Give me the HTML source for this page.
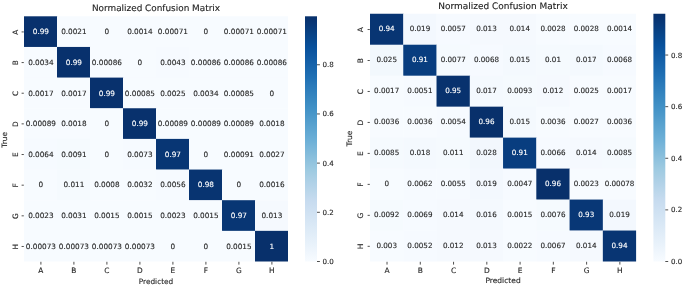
<!DOCTYPE html>
<html><head><meta charset="utf-8"><title>Normalized Confusion Matrix</title>
<style>
html,body{margin:0;padding:0;background:#fff;}
svg{display:block;filter:blur(0.3px);font-family:"DejaVu Sans","Liberation Sans",sans-serif;}
text{stroke:#262626;stroke-width:0.12px;text-rendering:geometricPrecision;}
text.w{stroke:#fff;}
</style></head><body>
<svg width="685" height="286" viewBox="0 0 685 286">
<rect x="0" y="0" width="685" height="286" fill="#ffffff"/>
<rect x="24.00" y="16.30" width="33.30" height="30.95" fill="#08316d"/>
<rect x="57.00" y="16.30" width="33.30" height="30.95" fill="#f7fbff"/>
<rect x="90.00" y="16.30" width="33.30" height="30.95" fill="#f7fbff"/>
<rect x="123.00" y="16.30" width="33.30" height="30.95" fill="#f7fbff"/>
<rect x="156.00" y="16.30" width="33.30" height="30.95" fill="#f7fbff"/>
<rect x="189.00" y="16.30" width="33.30" height="30.95" fill="#f7fbff"/>
<rect x="222.00" y="16.30" width="33.30" height="30.95" fill="#f7fbff"/>
<rect x="255.00" y="16.30" width="33.00" height="30.95" fill="#f7fbff"/>
<rect x="24.00" y="46.95" width="33.30" height="30.95" fill="#f7fbff"/>
<rect x="57.00" y="46.95" width="33.30" height="30.95" fill="#08316d"/>
<rect x="90.00" y="46.95" width="33.30" height="30.95" fill="#f7fbff"/>
<rect x="123.00" y="46.95" width="33.30" height="30.95" fill="#f7fbff"/>
<rect x="156.00" y="46.95" width="33.30" height="30.95" fill="#f6faff"/>
<rect x="189.00" y="46.95" width="33.30" height="30.95" fill="#f7fbff"/>
<rect x="222.00" y="46.95" width="33.30" height="30.95" fill="#f7fbff"/>
<rect x="255.00" y="46.95" width="33.00" height="30.95" fill="#f7fbff"/>
<rect x="24.00" y="77.60" width="33.30" height="30.95" fill="#f7fbff"/>
<rect x="57.00" y="77.60" width="33.30" height="30.95" fill="#f7fbff"/>
<rect x="90.00" y="77.60" width="33.30" height="30.95" fill="#08316d"/>
<rect x="123.00" y="77.60" width="33.30" height="30.95" fill="#f7fbff"/>
<rect x="156.00" y="77.60" width="33.30" height="30.95" fill="#f7fbff"/>
<rect x="189.00" y="77.60" width="33.30" height="30.95" fill="#f7fbff"/>
<rect x="222.00" y="77.60" width="33.30" height="30.95" fill="#f7fbff"/>
<rect x="255.00" y="77.60" width="33.00" height="30.95" fill="#f7fbff"/>
<rect x="24.00" y="108.25" width="33.30" height="30.95" fill="#f7fbff"/>
<rect x="57.00" y="108.25" width="33.30" height="30.95" fill="#f7fbff"/>
<rect x="90.00" y="108.25" width="33.30" height="30.95" fill="#f7fbff"/>
<rect x="123.00" y="108.25" width="33.30" height="30.95" fill="#08316d"/>
<rect x="156.00" y="108.25" width="33.30" height="30.95" fill="#f7fbff"/>
<rect x="189.00" y="108.25" width="33.30" height="30.95" fill="#f7fbff"/>
<rect x="222.00" y="108.25" width="33.30" height="30.95" fill="#f7fbff"/>
<rect x="255.00" y="108.25" width="33.00" height="30.95" fill="#f7fbff"/>
<rect x="24.00" y="138.90" width="33.30" height="30.95" fill="#f6faff"/>
<rect x="57.00" y="138.90" width="33.30" height="30.95" fill="#f5fafe"/>
<rect x="90.00" y="138.90" width="33.30" height="30.95" fill="#f7fbff"/>
<rect x="123.00" y="138.90" width="33.30" height="30.95" fill="#f6faff"/>
<rect x="156.00" y="138.90" width="33.30" height="30.95" fill="#083674"/>
<rect x="189.00" y="138.90" width="33.30" height="30.95" fill="#f7fbff"/>
<rect x="222.00" y="138.90" width="33.30" height="30.95" fill="#f7fbff"/>
<rect x="255.00" y="138.90" width="33.00" height="30.95" fill="#f7fbff"/>
<rect x="24.00" y="169.55" width="33.30" height="30.95" fill="#f7fbff"/>
<rect x="57.00" y="169.55" width="33.30" height="30.95" fill="#f5fafe"/>
<rect x="90.00" y="169.55" width="33.30" height="30.95" fill="#f7fbff"/>
<rect x="123.00" y="169.55" width="33.30" height="30.95" fill="#f7fbff"/>
<rect x="156.00" y="169.55" width="33.30" height="30.95" fill="#f6faff"/>
<rect x="189.00" y="169.55" width="33.30" height="30.95" fill="#083471"/>
<rect x="222.00" y="169.55" width="33.30" height="30.95" fill="#f7fbff"/>
<rect x="255.00" y="169.55" width="33.00" height="30.95" fill="#f7fbff"/>
<rect x="24.00" y="200.20" width="33.30" height="30.95" fill="#f7fbff"/>
<rect x="57.00" y="200.20" width="33.30" height="30.95" fill="#f7fbff"/>
<rect x="90.00" y="200.20" width="33.30" height="30.95" fill="#f7fbff"/>
<rect x="123.00" y="200.20" width="33.30" height="30.95" fill="#f7fbff"/>
<rect x="156.00" y="200.20" width="33.30" height="30.95" fill="#f7fbff"/>
<rect x="189.00" y="200.20" width="33.30" height="30.95" fill="#f7fbff"/>
<rect x="222.00" y="200.20" width="33.30" height="30.95" fill="#083674"/>
<rect x="255.00" y="200.20" width="33.00" height="30.95" fill="#f5f9fe"/>
<rect x="24.00" y="230.85" width="33.30" height="30.65" fill="#f7fbff"/>
<rect x="57.00" y="230.85" width="33.30" height="30.65" fill="#f7fbff"/>
<rect x="90.00" y="230.85" width="33.30" height="30.65" fill="#f7fbff"/>
<rect x="123.00" y="230.85" width="33.30" height="30.65" fill="#f7fbff"/>
<rect x="156.00" y="230.85" width="33.30" height="30.65" fill="#f7fbff"/>
<rect x="189.00" y="230.85" width="33.30" height="30.65" fill="#f7fbff"/>
<rect x="222.00" y="230.85" width="33.30" height="30.65" fill="#f7fbff"/>
<rect x="255.00" y="230.85" width="33.00" height="30.65" fill="#08306b"/>
<text x="40.90" y="31.73" font-size="7.3" fill="#ffffff" class="w" text-anchor="middle" dominant-baseline="central">0.99</text>
<text x="73.90" y="31.73" font-size="7.3" fill="#262626" class="d" text-anchor="middle" dominant-baseline="central">0.0021</text>
<text x="106.90" y="31.73" font-size="7.3" fill="#262626" class="d" text-anchor="middle" dominant-baseline="central">0</text>
<text x="139.90" y="31.73" font-size="7.3" fill="#262626" class="d" text-anchor="middle" dominant-baseline="central">0.0014</text>
<text x="172.90" y="31.73" font-size="7.3" fill="#262626" class="d" text-anchor="middle" dominant-baseline="central">0.00071</text>
<text x="205.90" y="31.73" font-size="7.3" fill="#262626" class="d" text-anchor="middle" dominant-baseline="central">0</text>
<text x="238.90" y="31.73" font-size="7.3" fill="#262626" class="d" text-anchor="middle" dominant-baseline="central">0.00071</text>
<text x="271.90" y="31.73" font-size="7.3" fill="#262626" class="d" text-anchor="middle" dominant-baseline="central">0.00071</text>
<text x="40.90" y="62.37" font-size="7.3" fill="#262626" class="d" text-anchor="middle" dominant-baseline="central">0.0034</text>
<text x="73.90" y="62.37" font-size="7.3" fill="#ffffff" class="w" text-anchor="middle" dominant-baseline="central">0.99</text>
<text x="106.90" y="62.37" font-size="7.3" fill="#262626" class="d" text-anchor="middle" dominant-baseline="central">0.00086</text>
<text x="139.90" y="62.37" font-size="7.3" fill="#262626" class="d" text-anchor="middle" dominant-baseline="central">0</text>
<text x="172.90" y="62.37" font-size="7.3" fill="#262626" class="d" text-anchor="middle" dominant-baseline="central">0.0043</text>
<text x="205.90" y="62.37" font-size="7.3" fill="#262626" class="d" text-anchor="middle" dominant-baseline="central">0.00086</text>
<text x="238.90" y="62.37" font-size="7.3" fill="#262626" class="d" text-anchor="middle" dominant-baseline="central">0.00086</text>
<text x="271.90" y="62.37" font-size="7.3" fill="#262626" class="d" text-anchor="middle" dominant-baseline="central">0.00086</text>
<text x="40.90" y="93.02" font-size="7.3" fill="#262626" class="d" text-anchor="middle" dominant-baseline="central">0.0017</text>
<text x="73.90" y="93.02" font-size="7.3" fill="#262626" class="d" text-anchor="middle" dominant-baseline="central">0.0017</text>
<text x="106.90" y="93.02" font-size="7.3" fill="#ffffff" class="w" text-anchor="middle" dominant-baseline="central">0.99</text>
<text x="139.90" y="93.02" font-size="7.3" fill="#262626" class="d" text-anchor="middle" dominant-baseline="central">0.00085</text>
<text x="172.90" y="93.02" font-size="7.3" fill="#262626" class="d" text-anchor="middle" dominant-baseline="central">0.0025</text>
<text x="205.90" y="93.02" font-size="7.3" fill="#262626" class="d" text-anchor="middle" dominant-baseline="central">0.0034</text>
<text x="238.90" y="93.02" font-size="7.3" fill="#262626" class="d" text-anchor="middle" dominant-baseline="central">0.00085</text>
<text x="271.90" y="93.02" font-size="7.3" fill="#262626" class="d" text-anchor="middle" dominant-baseline="central">0</text>
<text x="40.90" y="123.67" font-size="7.3" fill="#262626" class="d" text-anchor="middle" dominant-baseline="central">0.00089</text>
<text x="73.90" y="123.67" font-size="7.3" fill="#262626" class="d" text-anchor="middle" dominant-baseline="central">0.0018</text>
<text x="106.90" y="123.67" font-size="7.3" fill="#262626" class="d" text-anchor="middle" dominant-baseline="central">0</text>
<text x="139.90" y="123.67" font-size="7.3" fill="#ffffff" class="w" text-anchor="middle" dominant-baseline="central">0.99</text>
<text x="172.90" y="123.67" font-size="7.3" fill="#262626" class="d" text-anchor="middle" dominant-baseline="central">0.00089</text>
<text x="205.90" y="123.67" font-size="7.3" fill="#262626" class="d" text-anchor="middle" dominant-baseline="central">0.00089</text>
<text x="238.90" y="123.67" font-size="7.3" fill="#262626" class="d" text-anchor="middle" dominant-baseline="central">0.00089</text>
<text x="271.90" y="123.67" font-size="7.3" fill="#262626" class="d" text-anchor="middle" dominant-baseline="central">0.0018</text>
<text x="40.90" y="154.32" font-size="7.3" fill="#262626" class="d" text-anchor="middle" dominant-baseline="central">0.0064</text>
<text x="73.90" y="154.32" font-size="7.3" fill="#262626" class="d" text-anchor="middle" dominant-baseline="central">0.0091</text>
<text x="106.90" y="154.32" font-size="7.3" fill="#262626" class="d" text-anchor="middle" dominant-baseline="central">0</text>
<text x="139.90" y="154.32" font-size="7.3" fill="#262626" class="d" text-anchor="middle" dominant-baseline="central">0.0073</text>
<text x="172.90" y="154.32" font-size="7.3" fill="#ffffff" class="w" text-anchor="middle" dominant-baseline="central">0.97</text>
<text x="205.90" y="154.32" font-size="7.3" fill="#262626" class="d" text-anchor="middle" dominant-baseline="central">0</text>
<text x="238.90" y="154.32" font-size="7.3" fill="#262626" class="d" text-anchor="middle" dominant-baseline="central">0.00091</text>
<text x="271.90" y="154.32" font-size="7.3" fill="#262626" class="d" text-anchor="middle" dominant-baseline="central">0.0027</text>
<text x="40.90" y="184.97" font-size="7.3" fill="#262626" class="d" text-anchor="middle" dominant-baseline="central">0</text>
<text x="73.90" y="184.97" font-size="7.3" fill="#262626" class="d" text-anchor="middle" dominant-baseline="central">0.011</text>
<text x="106.90" y="184.97" font-size="7.3" fill="#262626" class="d" text-anchor="middle" dominant-baseline="central">0.0008</text>
<text x="139.90" y="184.97" font-size="7.3" fill="#262626" class="d" text-anchor="middle" dominant-baseline="central">0.0032</text>
<text x="172.90" y="184.97" font-size="7.3" fill="#262626" class="d" text-anchor="middle" dominant-baseline="central">0.0056</text>
<text x="205.90" y="184.97" font-size="7.3" fill="#ffffff" class="w" text-anchor="middle" dominant-baseline="central">0.98</text>
<text x="238.90" y="184.97" font-size="7.3" fill="#262626" class="d" text-anchor="middle" dominant-baseline="central">0</text>
<text x="271.90" y="184.97" font-size="7.3" fill="#262626" class="d" text-anchor="middle" dominant-baseline="central">0.0016</text>
<text x="40.90" y="215.62" font-size="7.3" fill="#262626" class="d" text-anchor="middle" dominant-baseline="central">0.0023</text>
<text x="73.90" y="215.62" font-size="7.3" fill="#262626" class="d" text-anchor="middle" dominant-baseline="central">0.0031</text>
<text x="106.90" y="215.62" font-size="7.3" fill="#262626" class="d" text-anchor="middle" dominant-baseline="central">0.0015</text>
<text x="139.90" y="215.62" font-size="7.3" fill="#262626" class="d" text-anchor="middle" dominant-baseline="central">0.0015</text>
<text x="172.90" y="215.62" font-size="7.3" fill="#262626" class="d" text-anchor="middle" dominant-baseline="central">0.0023</text>
<text x="205.90" y="215.62" font-size="7.3" fill="#262626" class="d" text-anchor="middle" dominant-baseline="central">0.0015</text>
<text x="238.90" y="215.62" font-size="7.3" fill="#ffffff" class="w" text-anchor="middle" dominant-baseline="central">0.97</text>
<text x="271.90" y="215.62" font-size="7.3" fill="#262626" class="d" text-anchor="middle" dominant-baseline="central">0.013</text>
<text x="40.90" y="246.28" font-size="7.3" fill="#262626" class="d" text-anchor="middle" dominant-baseline="central">0.00073</text>
<text x="73.90" y="246.28" font-size="7.3" fill="#262626" class="d" text-anchor="middle" dominant-baseline="central">0.00073</text>
<text x="106.90" y="246.28" font-size="7.3" fill="#262626" class="d" text-anchor="middle" dominant-baseline="central">0.00073</text>
<text x="139.90" y="246.28" font-size="7.3" fill="#262626" class="d" text-anchor="middle" dominant-baseline="central">0.00073</text>
<text x="172.90" y="246.28" font-size="7.3" fill="#262626" class="d" text-anchor="middle" dominant-baseline="central">0</text>
<text x="205.90" y="246.28" font-size="7.3" fill="#262626" class="d" text-anchor="middle" dominant-baseline="central">0</text>
<text x="238.90" y="246.28" font-size="7.3" fill="#262626" class="d" text-anchor="middle" dominant-baseline="central">0.0015</text>
<text x="271.90" y="246.28" font-size="7.3" fill="#ffffff" class="w" text-anchor="middle" dominant-baseline="central">1</text>
<line x1="40.90" y1="261.8" x2="40.90" y2="264.6" stroke="#222" stroke-width="0.8"/>
<text x="40.90" y="270.5" font-size="7.4" fill="#262626" text-anchor="middle" dominant-baseline="central">A</text>
<line x1="21.6" y1="31.93" x2="23.8" y2="31.93" stroke="#222" stroke-width="0.8"/>
<text transform="translate(15.0,32.12) rotate(-90)" font-size="7.4" fill="#262626" text-anchor="middle" dominant-baseline="central">A</text>
<line x1="73.90" y1="261.8" x2="73.90" y2="264.6" stroke="#222" stroke-width="0.8"/>
<text x="73.90" y="270.5" font-size="7.4" fill="#262626" text-anchor="middle" dominant-baseline="central">B</text>
<line x1="21.6" y1="62.57" x2="23.8" y2="62.57" stroke="#222" stroke-width="0.8"/>
<text transform="translate(15.0,62.77) rotate(-90)" font-size="7.4" fill="#262626" text-anchor="middle" dominant-baseline="central">B</text>
<line x1="106.90" y1="261.8" x2="106.90" y2="264.6" stroke="#222" stroke-width="0.8"/>
<text x="106.90" y="270.5" font-size="7.4" fill="#262626" text-anchor="middle" dominant-baseline="central">C</text>
<line x1="21.6" y1="93.22" x2="23.8" y2="93.22" stroke="#222" stroke-width="0.8"/>
<text transform="translate(15.0,93.42) rotate(-90)" font-size="7.4" fill="#262626" text-anchor="middle" dominant-baseline="central">C</text>
<line x1="139.90" y1="261.8" x2="139.90" y2="264.6" stroke="#222" stroke-width="0.8"/>
<text x="139.90" y="270.5" font-size="7.4" fill="#262626" text-anchor="middle" dominant-baseline="central">D</text>
<line x1="21.6" y1="123.87" x2="23.8" y2="123.87" stroke="#222" stroke-width="0.8"/>
<text transform="translate(15.0,124.07) rotate(-90)" font-size="7.4" fill="#262626" text-anchor="middle" dominant-baseline="central">D</text>
<line x1="172.90" y1="261.8" x2="172.90" y2="264.6" stroke="#222" stroke-width="0.8"/>
<text x="172.90" y="270.5" font-size="7.4" fill="#262626" text-anchor="middle" dominant-baseline="central">E</text>
<line x1="21.6" y1="154.53" x2="23.8" y2="154.53" stroke="#222" stroke-width="0.8"/>
<text transform="translate(15.0,154.72) rotate(-90)" font-size="7.4" fill="#262626" text-anchor="middle" dominant-baseline="central">E</text>
<line x1="205.90" y1="261.8" x2="205.90" y2="264.6" stroke="#222" stroke-width="0.8"/>
<text x="205.90" y="270.5" font-size="7.4" fill="#262626" text-anchor="middle" dominant-baseline="central">F</text>
<line x1="21.6" y1="185.18" x2="23.8" y2="185.18" stroke="#222" stroke-width="0.8"/>
<text transform="translate(15.0,185.38) rotate(-90)" font-size="7.4" fill="#262626" text-anchor="middle" dominant-baseline="central">F</text>
<line x1="238.90" y1="261.8" x2="238.90" y2="264.6" stroke="#222" stroke-width="0.8"/>
<text x="238.90" y="270.5" font-size="7.4" fill="#262626" text-anchor="middle" dominant-baseline="central">G</text>
<line x1="21.6" y1="215.83" x2="23.8" y2="215.83" stroke="#222" stroke-width="0.8"/>
<text transform="translate(15.0,216.03) rotate(-90)" font-size="7.4" fill="#262626" text-anchor="middle" dominant-baseline="central">G</text>
<line x1="271.90" y1="261.8" x2="271.90" y2="264.6" stroke="#222" stroke-width="0.8"/>
<text x="271.90" y="270.5" font-size="7.4" fill="#262626" text-anchor="middle" dominant-baseline="central">H</text>
<line x1="21.6" y1="246.48" x2="23.8" y2="246.48" stroke="#222" stroke-width="0.8"/>
<text transform="translate(15.0,246.68) rotate(-90)" font-size="7.4" fill="#262626" text-anchor="middle" dominant-baseline="central">H</text>
<text x="156.00" y="281.1" font-size="7.35" fill="#262626" text-anchor="middle" dominant-baseline="central">Predicted</text>
<text transform="translate(4.5,139.90) rotate(-90)" font-size="7.35" fill="#262626" text-anchor="middle" dominant-baseline="central">True</text>
<text x="156.00" y="8.5" font-size="8.88" fill="#1a1a1a" text-anchor="middle" dominant-baseline="central">Normalized Confusion Matrix</text>
<defs><linearGradient id="g1" x1="0" y1="0" x2="0" y2="1"><stop offset="0.0000" stop-color="#08306b"/><stop offset="0.0312" stop-color="#083776"/><stop offset="0.0625" stop-color="#084082"/><stop offset="0.0938" stop-color="#08488e"/><stop offset="0.1250" stop-color="#08509b"/><stop offset="0.1562" stop-color="#0e58a2"/><stop offset="0.1875" stop-color="#1460a8"/><stop offset="0.2188" stop-color="#1a68ae"/><stop offset="0.2500" stop-color="#2070b4"/><stop offset="0.2812" stop-color="#2979b9"/><stop offset="0.3125" stop-color="#3181bd"/><stop offset="0.3438" stop-color="#3989c1"/><stop offset="0.3750" stop-color="#4191c6"/><stop offset="0.4062" stop-color="#4b98ca"/><stop offset="0.4375" stop-color="#56a0ce"/><stop offset="0.4688" stop-color="#60a7d2"/><stop offset="0.5000" stop-color="#6aaed6"/><stop offset="0.5312" stop-color="#77b5d9"/><stop offset="0.5625" stop-color="#84bcdb"/><stop offset="0.5938" stop-color="#91c3de"/><stop offset="0.6250" stop-color="#9dcae1"/><stop offset="0.6562" stop-color="#a8cee4"/><stop offset="0.6875" stop-color="#b2d2e8"/><stop offset="0.7188" stop-color="#bcd7eb"/><stop offset="0.7500" stop-color="#c6dbef"/><stop offset="0.7812" stop-color="#ccdff1"/><stop offset="0.8125" stop-color="#d2e3f3"/><stop offset="0.8438" stop-color="#d8e7f5"/><stop offset="0.8750" stop-color="#deebf7"/><stop offset="0.9062" stop-color="#e4eff9"/><stop offset="0.9375" stop-color="#eaf3fb"/><stop offset="0.9688" stop-color="#f1f7fd"/><stop offset="1.0000" stop-color="#f7fbff"/></linearGradient></defs>
<rect x="305.0" y="16.3" width="12.0" height="245.2" fill="url(#g1)"/>
<line x1="317.0" y1="261.50" x2="319.9" y2="261.50" stroke="#222" stroke-width="0.8"/>
<text x="322.6" y="261.50" font-size="7.1" fill="#262626" dominant-baseline="central">0.0</text>
<line x1="317.0" y1="212.31" x2="319.9" y2="212.31" stroke="#222" stroke-width="0.8"/>
<text x="322.6" y="212.31" font-size="7.1" fill="#262626" dominant-baseline="central">0.2</text>
<line x1="317.0" y1="163.12" x2="319.9" y2="163.12" stroke="#222" stroke-width="0.8"/>
<text x="322.6" y="163.12" font-size="7.1" fill="#262626" dominant-baseline="central">0.4</text>
<line x1="317.0" y1="113.94" x2="319.9" y2="113.94" stroke="#222" stroke-width="0.8"/>
<text x="322.6" y="113.94" font-size="7.1" fill="#262626" dominant-baseline="central">0.6</text>
<line x1="317.0" y1="64.75" x2="319.9" y2="64.75" stroke="#222" stroke-width="0.8"/>
<text x="322.6" y="64.75" font-size="7.1" fill="#262626" dominant-baseline="central">0.8</text>
<rect x="370.00" y="13.75" width="33.56" height="31.27" fill="#083573"/>
<rect x="403.26" y="13.75" width="33.56" height="31.27" fill="#f3f8fe"/>
<rect x="436.52" y="13.75" width="33.56" height="31.27" fill="#f6faff"/>
<rect x="469.79" y="13.75" width="33.56" height="31.27" fill="#f5f9fe"/>
<rect x="503.05" y="13.75" width="33.56" height="31.27" fill="#f5f9fe"/>
<rect x="536.31" y="13.75" width="33.56" height="31.27" fill="#f7fbff"/>
<rect x="569.58" y="13.75" width="33.56" height="31.27" fill="#f7fbff"/>
<rect x="602.84" y="13.75" width="33.26" height="31.27" fill="#f7fbff"/>
<rect x="370.00" y="44.72" width="33.56" height="31.27" fill="#f2f8fd"/>
<rect x="403.26" y="44.72" width="33.56" height="31.27" fill="#083d7f"/>
<rect x="436.52" y="44.72" width="33.56" height="31.27" fill="#f5fafe"/>
<rect x="469.79" y="44.72" width="33.56" height="31.27" fill="#f6faff"/>
<rect x="503.05" y="44.72" width="33.56" height="31.27" fill="#f4f9fe"/>
<rect x="536.31" y="44.72" width="33.56" height="31.27" fill="#f5fafe"/>
<rect x="569.58" y="44.72" width="33.56" height="31.27" fill="#f4f9fe"/>
<rect x="602.84" y="44.72" width="33.26" height="31.27" fill="#f6faff"/>
<rect x="370.00" y="75.69" width="33.56" height="31.27" fill="#f7fbff"/>
<rect x="403.26" y="75.69" width="33.56" height="31.27" fill="#f6faff"/>
<rect x="436.52" y="75.69" width="33.56" height="31.27" fill="#08326e"/>
<rect x="469.79" y="75.69" width="33.56" height="31.27" fill="#f4f9fe"/>
<rect x="503.05" y="75.69" width="33.56" height="31.27" fill="#f5fafe"/>
<rect x="536.31" y="75.69" width="33.56" height="31.27" fill="#f5f9fe"/>
<rect x="569.58" y="75.69" width="33.56" height="31.27" fill="#f7fbff"/>
<rect x="602.84" y="75.69" width="33.26" height="31.27" fill="#f7fbff"/>
<rect x="370.00" y="106.66" width="33.56" height="31.27" fill="#f7fbff"/>
<rect x="403.26" y="106.66" width="33.56" height="31.27" fill="#f7fbff"/>
<rect x="436.52" y="106.66" width="33.56" height="31.27" fill="#f6faff"/>
<rect x="469.79" y="106.66" width="33.56" height="31.27" fill="#08306b"/>
<rect x="503.05" y="106.66" width="33.56" height="31.27" fill="#f4f9fe"/>
<rect x="536.31" y="106.66" width="33.56" height="31.27" fill="#f7fbff"/>
<rect x="569.58" y="106.66" width="33.56" height="31.27" fill="#f7fbff"/>
<rect x="602.84" y="106.66" width="33.26" height="31.27" fill="#f7fbff"/>
<rect x="370.00" y="137.62" width="33.56" height="31.27" fill="#f5fafe"/>
<rect x="403.26" y="137.62" width="33.56" height="31.27" fill="#f4f9fe"/>
<rect x="436.52" y="137.62" width="33.56" height="31.27" fill="#f5fafe"/>
<rect x="469.79" y="137.62" width="33.56" height="31.27" fill="#f2f7fd"/>
<rect x="503.05" y="137.62" width="33.56" height="31.27" fill="#083d7f"/>
<rect x="536.31" y="137.62" width="33.56" height="31.27" fill="#f6faff"/>
<rect x="569.58" y="137.62" width="33.56" height="31.27" fill="#f5f9fe"/>
<rect x="602.84" y="137.62" width="33.26" height="31.27" fill="#f5fafe"/>
<rect x="370.00" y="168.59" width="33.56" height="31.27" fill="#f7fbff"/>
<rect x="403.26" y="168.59" width="33.56" height="31.27" fill="#f6faff"/>
<rect x="436.52" y="168.59" width="33.56" height="31.27" fill="#f6faff"/>
<rect x="469.79" y="168.59" width="33.56" height="31.27" fill="#f3f8fe"/>
<rect x="503.05" y="168.59" width="33.56" height="31.27" fill="#f6faff"/>
<rect x="536.31" y="168.59" width="33.56" height="31.27" fill="#08306b"/>
<rect x="569.58" y="168.59" width="33.56" height="31.27" fill="#f7fbff"/>
<rect x="602.84" y="168.59" width="33.26" height="31.27" fill="#f7fbff"/>
<rect x="370.00" y="199.56" width="33.56" height="31.27" fill="#f5fafe"/>
<rect x="403.26" y="199.56" width="33.56" height="31.27" fill="#f6faff"/>
<rect x="436.52" y="199.56" width="33.56" height="31.27" fill="#f5f9fe"/>
<rect x="469.79" y="199.56" width="33.56" height="31.27" fill="#f4f9fe"/>
<rect x="503.05" y="199.56" width="33.56" height="31.27" fill="#f7fbff"/>
<rect x="536.31" y="199.56" width="33.56" height="31.27" fill="#f5fafe"/>
<rect x="569.58" y="199.56" width="33.56" height="31.27" fill="#083776"/>
<rect x="602.84" y="199.56" width="33.26" height="31.27" fill="#f3f8fe"/>
<rect x="370.00" y="230.53" width="33.56" height="30.97" fill="#f7fbff"/>
<rect x="403.26" y="230.53" width="33.56" height="30.97" fill="#f6faff"/>
<rect x="436.52" y="230.53" width="33.56" height="30.97" fill="#f5f9fe"/>
<rect x="469.79" y="230.53" width="33.56" height="30.97" fill="#f5f9fe"/>
<rect x="503.05" y="230.53" width="33.56" height="30.97" fill="#f7fbff"/>
<rect x="536.31" y="230.53" width="33.56" height="30.97" fill="#f6faff"/>
<rect x="569.58" y="230.53" width="33.56" height="30.97" fill="#f5f9fe"/>
<rect x="602.84" y="230.53" width="33.26" height="30.97" fill="#083573"/>
<text x="386.68" y="28.78" font-size="7.2" fill="#ffffff" class="w" text-anchor="middle" dominant-baseline="central">0.94</text>
<text x="419.94" y="28.78" font-size="7.2" fill="#262626" class="d" text-anchor="middle" dominant-baseline="central">0.019</text>
<text x="453.21" y="28.78" font-size="7.2" fill="#262626" class="d" text-anchor="middle" dominant-baseline="central">0.0057</text>
<text x="486.47" y="28.78" font-size="7.2" fill="#262626" class="d" text-anchor="middle" dominant-baseline="central">0.013</text>
<text x="519.73" y="28.78" font-size="7.2" fill="#262626" class="d" text-anchor="middle" dominant-baseline="central">0.014</text>
<text x="552.99" y="28.78" font-size="7.2" fill="#262626" class="d" text-anchor="middle" dominant-baseline="central">0.0028</text>
<text x="586.26" y="28.78" font-size="7.2" fill="#262626" class="d" text-anchor="middle" dominant-baseline="central">0.0028</text>
<text x="619.52" y="28.78" font-size="7.2" fill="#262626" class="d" text-anchor="middle" dominant-baseline="central">0.0014</text>
<text x="386.68" y="59.75" font-size="7.2" fill="#262626" class="d" text-anchor="middle" dominant-baseline="central">0.025</text>
<text x="419.94" y="59.75" font-size="7.2" fill="#ffffff" class="w" text-anchor="middle" dominant-baseline="central">0.91</text>
<text x="453.21" y="59.75" font-size="7.2" fill="#262626" class="d" text-anchor="middle" dominant-baseline="central">0.0077</text>
<text x="486.47" y="59.75" font-size="7.2" fill="#262626" class="d" text-anchor="middle" dominant-baseline="central">0.0068</text>
<text x="519.73" y="59.75" font-size="7.2" fill="#262626" class="d" text-anchor="middle" dominant-baseline="central">0.015</text>
<text x="552.99" y="59.75" font-size="7.2" fill="#262626" class="d" text-anchor="middle" dominant-baseline="central">0.01</text>
<text x="586.26" y="59.75" font-size="7.2" fill="#262626" class="d" text-anchor="middle" dominant-baseline="central">0.017</text>
<text x="619.52" y="59.75" font-size="7.2" fill="#262626" class="d" text-anchor="middle" dominant-baseline="central">0.0068</text>
<text x="386.68" y="90.72" font-size="7.2" fill="#262626" class="d" text-anchor="middle" dominant-baseline="central">0.0017</text>
<text x="419.94" y="90.72" font-size="7.2" fill="#262626" class="d" text-anchor="middle" dominant-baseline="central">0.0051</text>
<text x="453.21" y="90.72" font-size="7.2" fill="#ffffff" class="w" text-anchor="middle" dominant-baseline="central">0.95</text>
<text x="486.47" y="90.72" font-size="7.2" fill="#262626" class="d" text-anchor="middle" dominant-baseline="central">0.017</text>
<text x="519.73" y="90.72" font-size="7.2" fill="#262626" class="d" text-anchor="middle" dominant-baseline="central">0.0093</text>
<text x="552.99" y="90.72" font-size="7.2" fill="#262626" class="d" text-anchor="middle" dominant-baseline="central">0.012</text>
<text x="586.26" y="90.72" font-size="7.2" fill="#262626" class="d" text-anchor="middle" dominant-baseline="central">0.0025</text>
<text x="619.52" y="90.72" font-size="7.2" fill="#262626" class="d" text-anchor="middle" dominant-baseline="central">0.0017</text>
<text x="386.68" y="121.69" font-size="7.2" fill="#262626" class="d" text-anchor="middle" dominant-baseline="central">0.0036</text>
<text x="419.94" y="121.69" font-size="7.2" fill="#262626" class="d" text-anchor="middle" dominant-baseline="central">0.0036</text>
<text x="453.21" y="121.69" font-size="7.2" fill="#262626" class="d" text-anchor="middle" dominant-baseline="central">0.0054</text>
<text x="486.47" y="121.69" font-size="7.2" fill="#ffffff" class="w" text-anchor="middle" dominant-baseline="central">0.96</text>
<text x="519.73" y="121.69" font-size="7.2" fill="#262626" class="d" text-anchor="middle" dominant-baseline="central">0.015</text>
<text x="552.99" y="121.69" font-size="7.2" fill="#262626" class="d" text-anchor="middle" dominant-baseline="central">0.0036</text>
<text x="586.26" y="121.69" font-size="7.2" fill="#262626" class="d" text-anchor="middle" dominant-baseline="central">0.0027</text>
<text x="619.52" y="121.69" font-size="7.2" fill="#262626" class="d" text-anchor="middle" dominant-baseline="central">0.0036</text>
<text x="386.68" y="152.66" font-size="7.2" fill="#262626" class="d" text-anchor="middle" dominant-baseline="central">0.0085</text>
<text x="419.94" y="152.66" font-size="7.2" fill="#262626" class="d" text-anchor="middle" dominant-baseline="central">0.018</text>
<text x="453.21" y="152.66" font-size="7.2" fill="#262626" class="d" text-anchor="middle" dominant-baseline="central">0.011</text>
<text x="486.47" y="152.66" font-size="7.2" fill="#262626" class="d" text-anchor="middle" dominant-baseline="central">0.028</text>
<text x="519.73" y="152.66" font-size="7.2" fill="#ffffff" class="w" text-anchor="middle" dominant-baseline="central">0.91</text>
<text x="552.99" y="152.66" font-size="7.2" fill="#262626" class="d" text-anchor="middle" dominant-baseline="central">0.0066</text>
<text x="586.26" y="152.66" font-size="7.2" fill="#262626" class="d" text-anchor="middle" dominant-baseline="central">0.014</text>
<text x="619.52" y="152.66" font-size="7.2" fill="#262626" class="d" text-anchor="middle" dominant-baseline="central">0.0085</text>
<text x="386.68" y="183.63" font-size="7.2" fill="#262626" class="d" text-anchor="middle" dominant-baseline="central">0</text>
<text x="419.94" y="183.63" font-size="7.2" fill="#262626" class="d" text-anchor="middle" dominant-baseline="central">0.0062</text>
<text x="453.21" y="183.63" font-size="7.2" fill="#262626" class="d" text-anchor="middle" dominant-baseline="central">0.0055</text>
<text x="486.47" y="183.63" font-size="7.2" fill="#262626" class="d" text-anchor="middle" dominant-baseline="central">0.019</text>
<text x="519.73" y="183.63" font-size="7.2" fill="#262626" class="d" text-anchor="middle" dominant-baseline="central">0.0047</text>
<text x="552.99" y="183.63" font-size="7.2" fill="#ffffff" class="w" text-anchor="middle" dominant-baseline="central">0.96</text>
<text x="586.26" y="183.63" font-size="7.2" fill="#262626" class="d" text-anchor="middle" dominant-baseline="central">0.0023</text>
<text x="619.52" y="183.63" font-size="7.2" fill="#262626" class="d" text-anchor="middle" dominant-baseline="central">0.00078</text>
<text x="386.68" y="214.60" font-size="7.2" fill="#262626" class="d" text-anchor="middle" dominant-baseline="central">0.0092</text>
<text x="419.94" y="214.60" font-size="7.2" fill="#262626" class="d" text-anchor="middle" dominant-baseline="central">0.0069</text>
<text x="453.21" y="214.60" font-size="7.2" fill="#262626" class="d" text-anchor="middle" dominant-baseline="central">0.014</text>
<text x="486.47" y="214.60" font-size="7.2" fill="#262626" class="d" text-anchor="middle" dominant-baseline="central">0.016</text>
<text x="519.73" y="214.60" font-size="7.2" fill="#262626" class="d" text-anchor="middle" dominant-baseline="central">0.0015</text>
<text x="552.99" y="214.60" font-size="7.2" fill="#262626" class="d" text-anchor="middle" dominant-baseline="central">0.0076</text>
<text x="586.26" y="214.60" font-size="7.2" fill="#ffffff" class="w" text-anchor="middle" dominant-baseline="central">0.93</text>
<text x="619.52" y="214.60" font-size="7.2" fill="#262626" class="d" text-anchor="middle" dominant-baseline="central">0.019</text>
<text x="386.68" y="245.57" font-size="7.2" fill="#262626" class="d" text-anchor="middle" dominant-baseline="central">0.003</text>
<text x="419.94" y="245.57" font-size="7.2" fill="#262626" class="d" text-anchor="middle" dominant-baseline="central">0.0052</text>
<text x="453.21" y="245.57" font-size="7.2" fill="#262626" class="d" text-anchor="middle" dominant-baseline="central">0.012</text>
<text x="486.47" y="245.57" font-size="7.2" fill="#262626" class="d" text-anchor="middle" dominant-baseline="central">0.013</text>
<text x="519.73" y="245.57" font-size="7.2" fill="#262626" class="d" text-anchor="middle" dominant-baseline="central">0.0022</text>
<text x="552.99" y="245.57" font-size="7.2" fill="#262626" class="d" text-anchor="middle" dominant-baseline="central">0.0067</text>
<text x="586.26" y="245.57" font-size="7.2" fill="#262626" class="d" text-anchor="middle" dominant-baseline="central">0.014</text>
<text x="619.52" y="245.57" font-size="7.2" fill="#ffffff" class="w" text-anchor="middle" dominant-baseline="central">0.94</text>
<line x1="387.03" y1="261.8" x2="387.03" y2="264.6" stroke="#222" stroke-width="0.8"/>
<text x="387.03" y="270.7" font-size="7.5" fill="#262626" text-anchor="middle" dominant-baseline="central">A</text>
<line x1="367.6" y1="29.53" x2="369.8" y2="29.53" stroke="#222" stroke-width="0.8"/>
<text transform="translate(360.6,29.73) rotate(-90)" font-size="7.5" fill="#262626" text-anchor="middle" dominant-baseline="central">A</text>
<line x1="420.29" y1="261.8" x2="420.29" y2="264.6" stroke="#222" stroke-width="0.8"/>
<text x="420.29" y="270.7" font-size="7.5" fill="#262626" text-anchor="middle" dominant-baseline="central">B</text>
<line x1="367.6" y1="60.50" x2="369.8" y2="60.50" stroke="#222" stroke-width="0.8"/>
<text transform="translate(360.6,60.70) rotate(-90)" font-size="7.5" fill="#262626" text-anchor="middle" dominant-baseline="central">B</text>
<line x1="453.56" y1="261.8" x2="453.56" y2="264.6" stroke="#222" stroke-width="0.8"/>
<text x="453.56" y="270.7" font-size="7.5" fill="#262626" text-anchor="middle" dominant-baseline="central">C</text>
<line x1="367.6" y1="91.47" x2="369.8" y2="91.47" stroke="#222" stroke-width="0.8"/>
<text transform="translate(360.6,91.67) rotate(-90)" font-size="7.5" fill="#262626" text-anchor="middle" dominant-baseline="central">C</text>
<line x1="486.82" y1="261.8" x2="486.82" y2="264.6" stroke="#222" stroke-width="0.8"/>
<text x="486.82" y="270.7" font-size="7.5" fill="#262626" text-anchor="middle" dominant-baseline="central">D</text>
<line x1="367.6" y1="122.44" x2="369.8" y2="122.44" stroke="#222" stroke-width="0.8"/>
<text transform="translate(360.6,122.64) rotate(-90)" font-size="7.5" fill="#262626" text-anchor="middle" dominant-baseline="central">D</text>
<line x1="520.08" y1="261.8" x2="520.08" y2="264.6" stroke="#222" stroke-width="0.8"/>
<text x="520.08" y="270.7" font-size="7.5" fill="#262626" text-anchor="middle" dominant-baseline="central">E</text>
<line x1="367.6" y1="153.41" x2="369.8" y2="153.41" stroke="#222" stroke-width="0.8"/>
<text transform="translate(360.6,153.61) rotate(-90)" font-size="7.5" fill="#262626" text-anchor="middle" dominant-baseline="central">E</text>
<line x1="553.34" y1="261.8" x2="553.34" y2="264.6" stroke="#222" stroke-width="0.8"/>
<text x="553.34" y="270.7" font-size="7.5" fill="#262626" text-anchor="middle" dominant-baseline="central">F</text>
<line x1="367.6" y1="184.38" x2="369.8" y2="184.38" stroke="#222" stroke-width="0.8"/>
<text transform="translate(360.6,184.58) rotate(-90)" font-size="7.5" fill="#262626" text-anchor="middle" dominant-baseline="central">F</text>
<line x1="586.61" y1="261.8" x2="586.61" y2="264.6" stroke="#222" stroke-width="0.8"/>
<text x="586.61" y="270.7" font-size="7.5" fill="#262626" text-anchor="middle" dominant-baseline="central">G</text>
<line x1="367.6" y1="215.35" x2="369.8" y2="215.35" stroke="#222" stroke-width="0.8"/>
<text transform="translate(360.6,215.55) rotate(-90)" font-size="7.5" fill="#262626" text-anchor="middle" dominant-baseline="central">G</text>
<line x1="619.87" y1="261.8" x2="619.87" y2="264.6" stroke="#222" stroke-width="0.8"/>
<text x="619.87" y="270.7" font-size="7.5" fill="#262626" text-anchor="middle" dominant-baseline="central">H</text>
<line x1="367.6" y1="246.32" x2="369.8" y2="246.32" stroke="#222" stroke-width="0.8"/>
<text transform="translate(360.6,246.52) rotate(-90)" font-size="7.5" fill="#262626" text-anchor="middle" dominant-baseline="central">H</text>
<text x="503.05" y="280.9" font-size="7.5" fill="#262626" text-anchor="middle" dominant-baseline="central">Predicted</text>
<text transform="translate(349.2,138.62) rotate(-90)" font-size="7.5" fill="#262626" text-anchor="middle" dominant-baseline="central">True</text>
<text x="503.05" y="7" font-size="8.98" fill="#1a1a1a" text-anchor="middle" dominant-baseline="central">Normalized Confusion Matrix</text>
<defs><linearGradient id="g2" x1="0" y1="0" x2="0" y2="1"><stop offset="0.0000" stop-color="#08306b"/><stop offset="0.0312" stop-color="#083776"/><stop offset="0.0625" stop-color="#084082"/><stop offset="0.0938" stop-color="#08488e"/><stop offset="0.1250" stop-color="#08509b"/><stop offset="0.1562" stop-color="#0e58a2"/><stop offset="0.1875" stop-color="#1460a8"/><stop offset="0.2188" stop-color="#1a68ae"/><stop offset="0.2500" stop-color="#2070b4"/><stop offset="0.2812" stop-color="#2979b9"/><stop offset="0.3125" stop-color="#3181bd"/><stop offset="0.3438" stop-color="#3989c1"/><stop offset="0.3750" stop-color="#4191c6"/><stop offset="0.4062" stop-color="#4b98ca"/><stop offset="0.4375" stop-color="#56a0ce"/><stop offset="0.4688" stop-color="#60a7d2"/><stop offset="0.5000" stop-color="#6aaed6"/><stop offset="0.5312" stop-color="#77b5d9"/><stop offset="0.5625" stop-color="#84bcdb"/><stop offset="0.5938" stop-color="#91c3de"/><stop offset="0.6250" stop-color="#9dcae1"/><stop offset="0.6562" stop-color="#a8cee4"/><stop offset="0.6875" stop-color="#b2d2e8"/><stop offset="0.7188" stop-color="#bcd7eb"/><stop offset="0.7500" stop-color="#c6dbef"/><stop offset="0.7812" stop-color="#ccdff1"/><stop offset="0.8125" stop-color="#d2e3f3"/><stop offset="0.8438" stop-color="#d8e7f5"/><stop offset="0.8750" stop-color="#deebf7"/><stop offset="0.9062" stop-color="#e4eff9"/><stop offset="0.9375" stop-color="#eaf3fb"/><stop offset="0.9688" stop-color="#f1f7fd"/><stop offset="1.0000" stop-color="#f7fbff"/></linearGradient></defs>
<rect x="653.4" y="13.75" width="11.899999999999977" height="247.75" fill="url(#g2)"/>
<line x1="665.3" y1="261.50" x2="668.1999999999999" y2="261.50" stroke="#222" stroke-width="0.8"/>
<text x="670.9" y="261.50" font-size="7.1" fill="#262626" dominant-baseline="central">0.0</text>
<line x1="665.3" y1="209.89" x2="668.1999999999999" y2="209.89" stroke="#222" stroke-width="0.8"/>
<text x="670.9" y="209.89" font-size="7.1" fill="#262626" dominant-baseline="central">0.2</text>
<line x1="665.3" y1="158.27" x2="668.1999999999999" y2="158.27" stroke="#222" stroke-width="0.8"/>
<text x="670.9" y="158.27" font-size="7.1" fill="#262626" dominant-baseline="central">0.4</text>
<line x1="665.3" y1="106.66" x2="668.1999999999999" y2="106.66" stroke="#222" stroke-width="0.8"/>
<text x="670.9" y="106.66" font-size="7.1" fill="#262626" dominant-baseline="central">0.6</text>
<line x1="665.3" y1="55.04" x2="668.1999999999999" y2="55.04" stroke="#222" stroke-width="0.8"/>
<text x="670.9" y="55.04" font-size="7.1" fill="#262626" dominant-baseline="central">0.8</text>
</svg>
</body></html>
